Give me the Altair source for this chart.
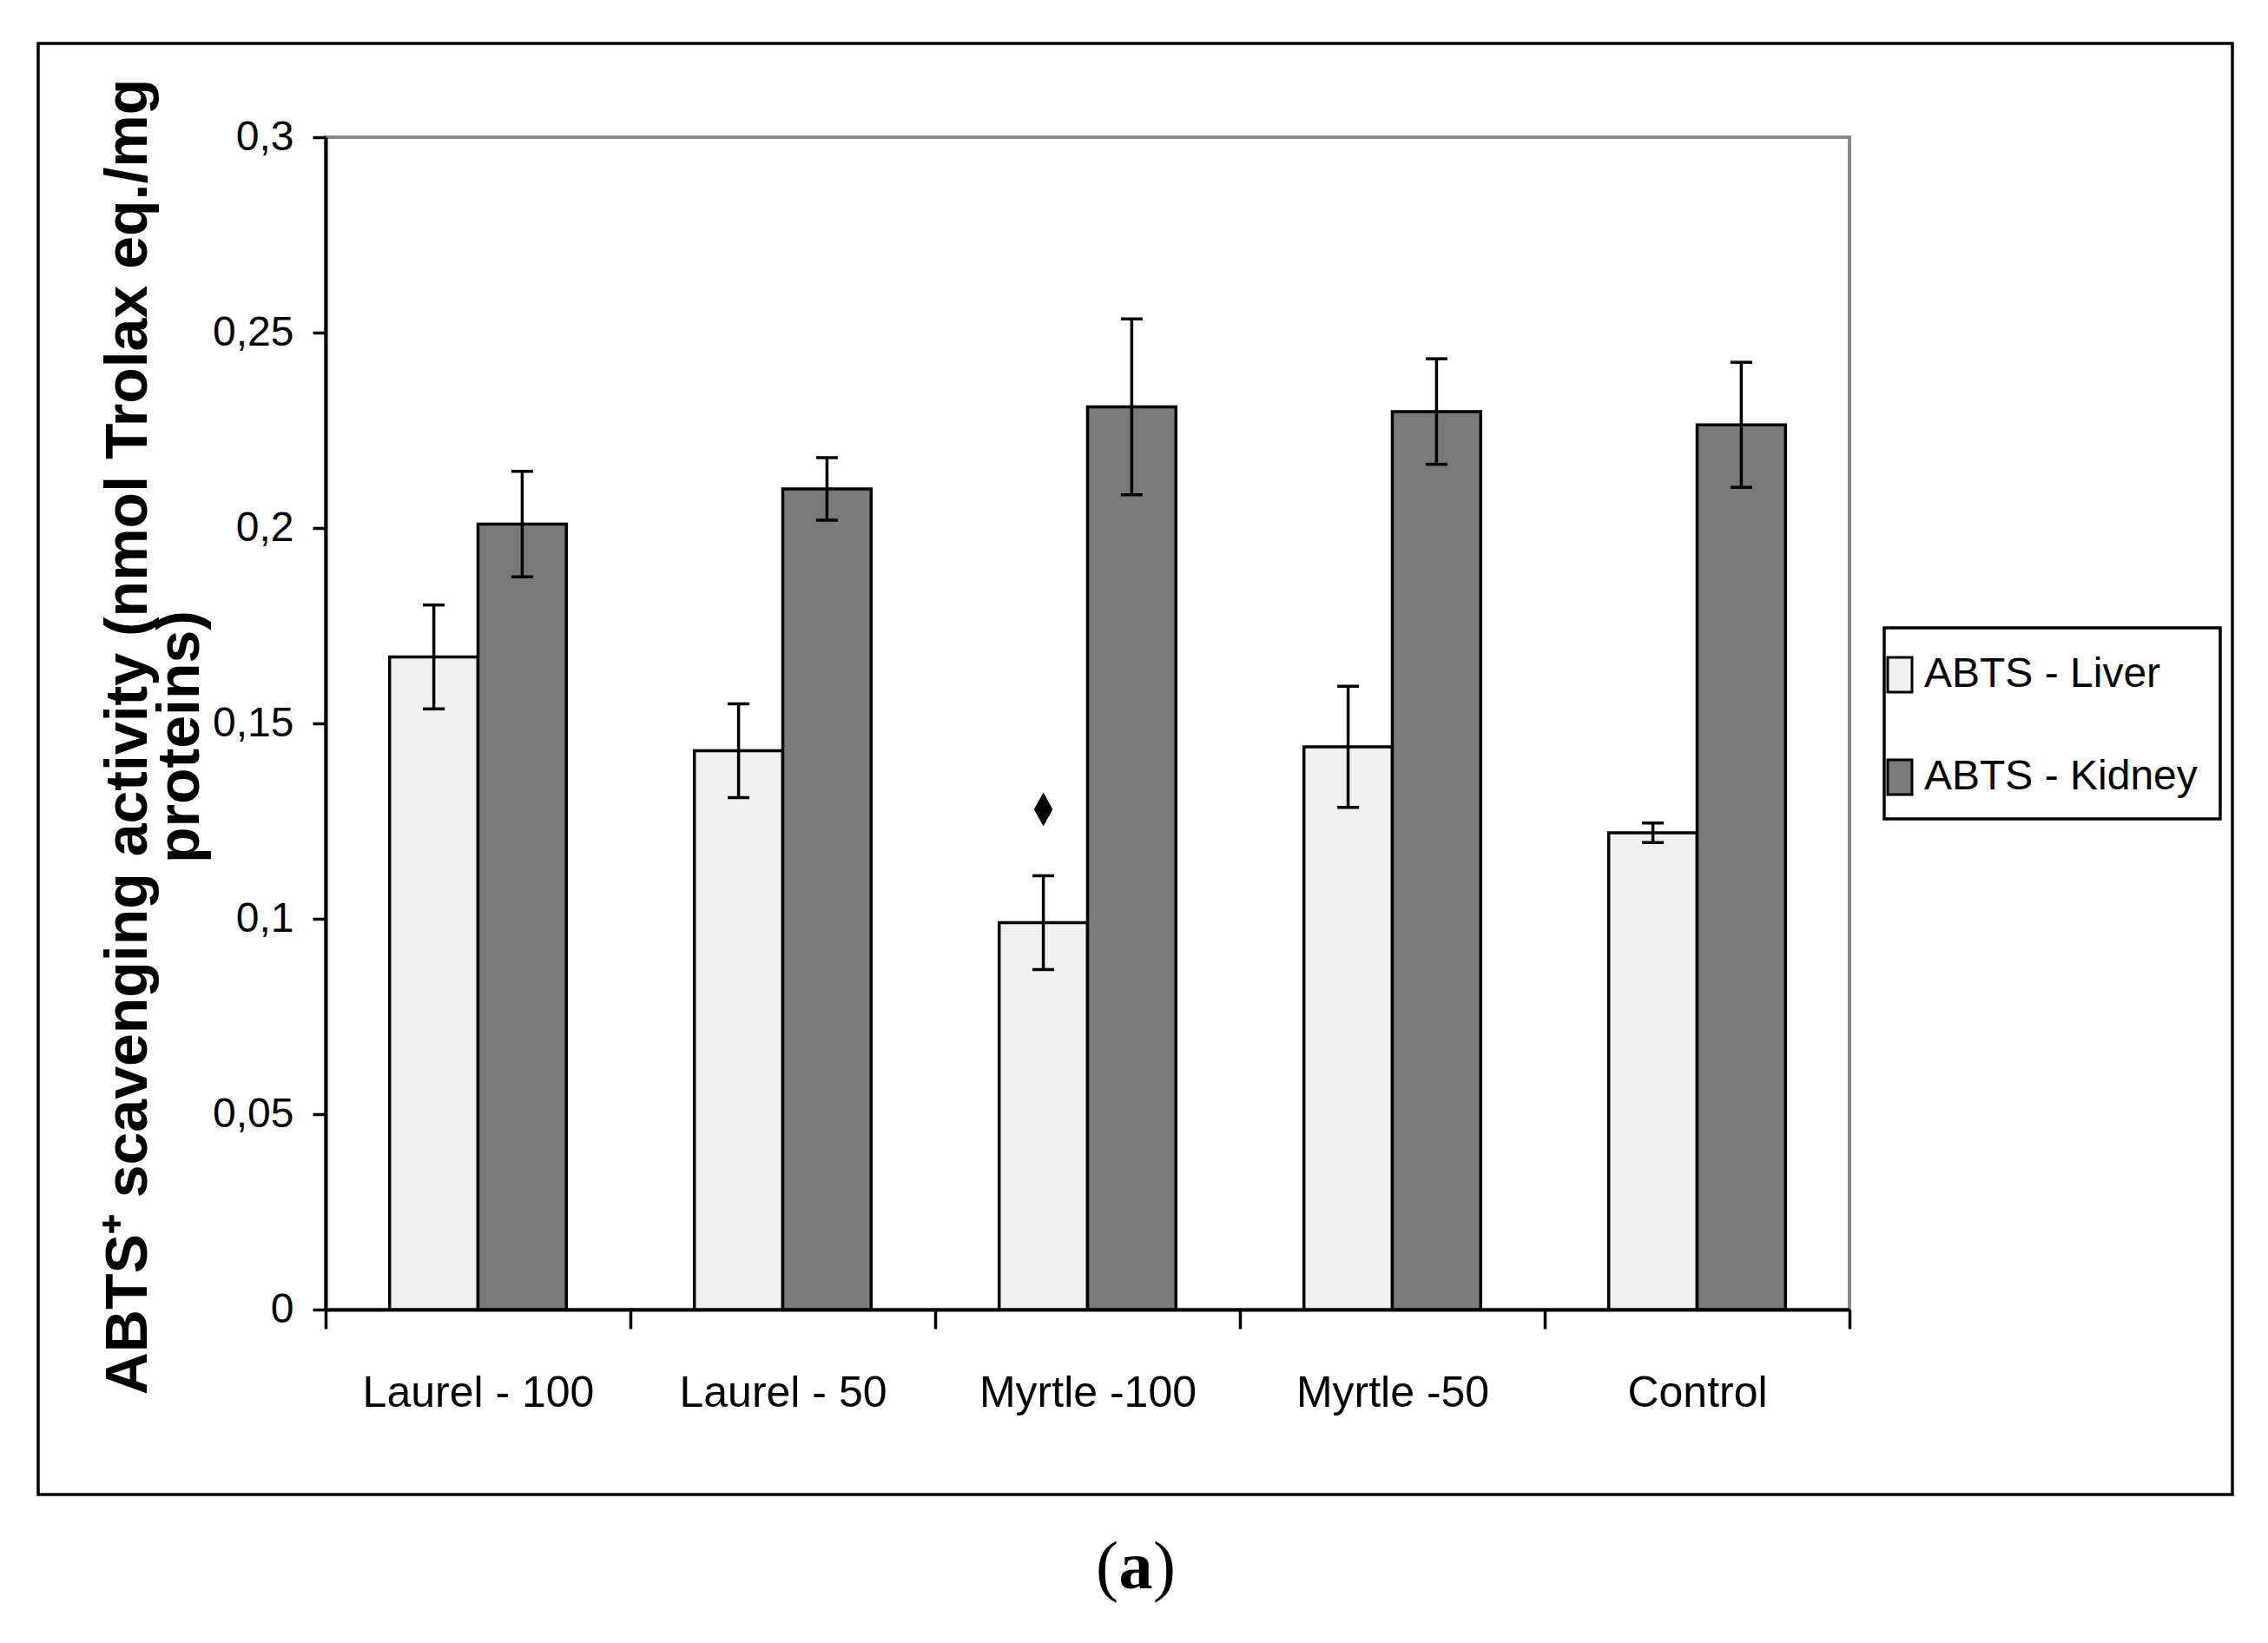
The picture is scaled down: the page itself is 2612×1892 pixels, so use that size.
import altair as alt
import pandas as pd

categories = ["Laurel - 100", "Laurel - 50", "Myrtle -100", "Myrtle -50", "Control"]
series_names = ["ABTS - Liver", "ABTS - Kidney"]
liver = [0.167, 0.143, 0.099, 0.144, 0.122]
liver_err = [0.0133, 0.012, 0.012, 0.0155, 0.0025]
kidney = [0.201, 0.210, 0.231, 0.2298, 0.2264]
kidney_err = [0.0135, 0.008, 0.0225, 0.0135, 0.016]
y_ticks = [0, 0.05, 0.1, 0.15, 0.2, 0.25, 0.3]
marker_category = ["Myrtle -100"]
marker_series = ["ABTS - Liver"]
marker_value = [0.128]

rows = []
for i, c in enumerate(categories):
    rows.append({"cat": c, "series": series_names[0], "value": liver[i], "err": liver_err[i]})
    rows.append({"cat": c, "series": series_names[1], "value": kidney[i], "err": kidney_err[i]})
df = pd.DataFrame(rows)
df["lo"] = df["value"] - df["err"]
df["hi"] = df["value"] + df["err"]
mk = pd.DataFrame({"cat": marker_category, "series": marker_series, "value": marker_value})

SANS = "Liberation Sans, Arial, sans-serif"
W, H = 1755, 1350

x_enc = alt.X("cat:N", sort=categories,
              scale=alt.Scale(paddingInner=0, paddingOuter=0),
              axis=alt.Axis(title=None, labelAngle=0, tickBand="extent", tickSize=22,
                            labelPadding=49, labelFont=SANS, labelFontSize=50, labelLimit=1000,
                            domainWidth=4, tickWidth=3.5))
xo_enc = alt.XOffset("series:N", sort=series_names,
                     scale=alt.Scale(paddingInner=0, paddingOuter=0.724))
y_scale = alt.Scale(domain=[0, 0.3], nice=False, zero=True)

bars = alt.Chart(df).mark_bar(stroke="black", strokeWidth=3.5).encode(
    x=x_enc, xOffset=xo_enc,
    y=alt.Y("value:Q", scale=y_scale,
            axis=alt.Axis(values=y_ticks, labelExpr="replace(toString(datum.value), '.', ',')",
                          title=["ABTS\u207a scavenging activity (nmol Trolax eq./mg", "proteins)"],
                          titleFont="Liberation Sans", titleFontWeight="bold", titleFontSize=68,
                          titleLineHeight=60, titleAngle=270, titleX=-227, titleY=690,
                          titleAlign="center", titleBaseline="middle",
                          labelFont=SANS, labelFontSize=48, labelPadding=22, labelLimit=1000,
                          tickSize=15, tickWidth=3.5, domainWidth=4, grid=False)),
    color=alt.Color("series:N", sort=series_names,
                    scale=alt.Scale(domain=series_names, range=["#f0f0f0", "#7a7a7a"]),
                    legend=alt.Legend(title=None, orient="none", legendX=1769, legendY=575,
                                      labelFont=SANS, labelFontSize=48, labelOffset=4, labelLimit=1000,
                                      symbolType="M-0.7,-1H0.7V1H-0.7Z", symbolSize=1600,
                                      symbolStrokeColor="black", symbolStrokeWidth=3,
                                      symbolOpacity=1, rowPadding=66, padding=20)),
)

rules = alt.Chart(df).mark_rule(color="black", strokeWidth=3.5).encode(
    x=x_enc, xOffset=xo_enc, y=alt.Y("lo:Q", scale=y_scale), y2="hi:Q")
cap_lo = alt.Chart(df).mark_tick(color="black", thickness=3.5, size=25, opacity=1).encode(
    x=x_enc, xOffset=xo_enc, y=alt.Y("lo:Q", scale=y_scale))
cap_hi = alt.Chart(df).mark_tick(color="black", thickness=3.5, size=25, opacity=1).encode(
    x=x_enc, xOffset=xo_enc, y=alt.Y("hi:Q", scale=y_scale))

diamond = alt.Chart(mk).mark_point(shape="M0,-1L0.55,0L0,1L-0.55,0Z", filled=True,
                                   color="black", size=1521, opacity=1).encode(
    x=x_enc, xOffset=xo_enc, y=alt.Y("value:Q", scale=y_scale))

one = pd.DataFrame({"k": [0]})
border = alt.Chart(one).mark_rect(filled=False, stroke="black", strokeWidth=3.5, clip=False).encode(
    x=alt.value(44 - 375), x2=alt.value(2571 - 375), y=alt.value(50 - 158), y2=alt.value(1721 - 158))
legend_box = alt.Chart(one).mark_rect(filled=False, stroke="black", strokeWidth=3.5, clip=False).encode(
    x=alt.value(2170 - 375), x2=alt.value(2557 - 375), y=alt.value(723 - 158), y2=alt.value(943 - 158))

cap_l = alt.Chart(one).mark_text(text="(", font="Liberation Serif", fontSize=78, align="center",
                                 baseline="middle").encode(x=alt.value(933 - 33), y=alt.value(1648))
cap_a = alt.Chart(one).mark_text(text="a", font="Liberation Serif", fontSize=78, fontWeight="bold",
                                 align="center", baseline="middle").encode(x=alt.value(933), y=alt.value(1648))
cap_r = alt.Chart(one).mark_text(text=")", font="Liberation Serif", fontSize=78, align="center",
                                 baseline="middle").encode(x=alt.value(933 + 33), y=alt.value(1648))

chart = alt.layer(border, legend_box, bars, rules, cap_lo, cap_hi, diamond, cap_l, cap_a, cap_r).properties(
    width=W, height=H,
    autosize=alt.AutoSizeParams(type="none"),
    padding={"left": 367, "top": 150, "right": 474, "bottom": 376},
    background="white",
).configure_view(stroke="#888888", strokeWidth=4).configure_axis(
    domainColor="black", tickColor="black", labelColor="black", titleColor="black"
)

chart.save("out.html", embed_options={"renderer": "svg", "actions": False})
